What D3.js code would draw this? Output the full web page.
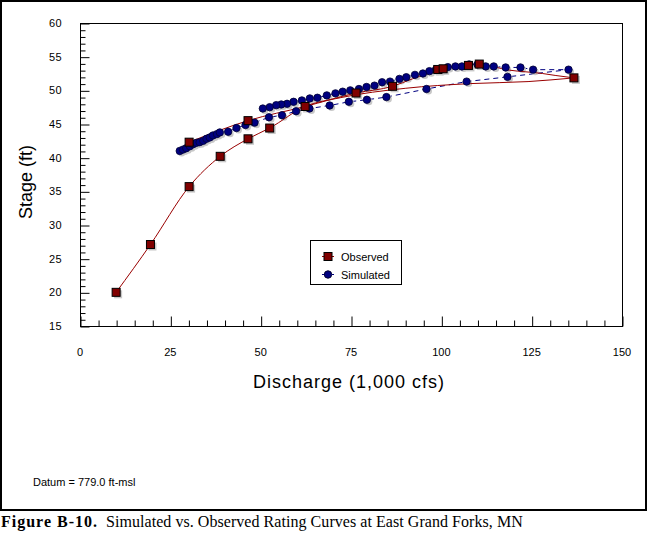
<!DOCTYPE html>
<html>
<head>
<meta charset="utf-8">
<script src="https://cdn.jsdelivr.net/npm/d3@7"></script>
<style>
    body { margin: 0; background: white; }
    svg { display: block; }
</style>
</head>
<body>
<div id="chartdiv"></div>
<script>
/*global d3 */

////////////////////////////////////////
// data (discharge in 1,000 cfs, stage in ft)
////////////////////////////////////////

// observed points, drawn as squares
var obsQ =     [10, 19.5, 30.2, 38.8, 46.5, 52.5, 62.3, 136.7,
                30.2, 46.5, 76.4, 86.5, 99, 100.5, 107.5, 110.5];
var obsStage = [20, 27.1, 35.7, 40.2, 42.8, 44.4, 47.6, 51.85,
                42.3, 45.5, 49.6, 50.6, 53.1, 53.2, 53.7, 53.9];

// observed rating curve, rising limb (lower)
var obsRiseQ =     [10, 19.5, 30.2, 38.8, 46.5, 52.5, 62.3, 72, 90,
                    108, 124, 136.7];
var obsRiseStage = [20, 27.1, 35.7, 40.2, 42.8, 44.4, 47.6, 48.9, 50.3,
                    51.0, 51.3, 51.85];

// observed rating curve, falling limb (upper), listed low to high Q
var obsFallQ =     [30.2, 46.5, 62.3, 76.4, 86.5, 92, 100, 104, 110,
                    118.8, 128, 131.7, 136.7];
var obsFallStage = [42.3, 45.5, 47.6, 49.6, 50.6, 51.7, 53.1, 53.6, 53.9,
                    53.0, 52.5, 52.2, 51.85];

// simulated loop, in time order (rising then falling)
var simQ = [27.6, 28.5, 29.4, 30.4, 31.3, 32.2, 33.1, 34.1, 35.0, 35.9,
            36.8, 37.9, 38.7, 41.0, 43.3, 45.8, 48.3, 52.3, 55.9, 59.8,
            63.5, 69.1, 74.4, 79.4, 84.8, 95.9, 107, 118.3, 135.2,
            125.4, 121.9, 117.8, 114.5, 112.3, 110, 107.7, 105.7, 103.9,
            101.8, 99.8, 98.5, 96.7, 94.9, 92.7, 90.3, 88.4, 85.8, 83.6,
            81.5, 79.3, 77.2, 74.8, 72.7, 70.7, 68.3, 65.7, 63.6, 61.4,
            59.1, 57.3, 55.7, 54.3, 52.5, 50.6];
var simStage = [41.0, 41.2, 41.4, 41.7, 42.0, 42.2, 42.3, 42.5, 42.8, 43.0,
                43.3, 43.5, 43.75, 43.85, 44.4, 44.85, 45.2, 46.0, 46.3, 46.9,
                47.3, 47.75, 48.3, 48.6, 49.0, 50.2, 51.3, 52.0, 53.07,
                53.07, 53.4, 53.4, 53.55, 53.55, 53.85, 53.85, 53.55, 53.55,
                53.45, 53.07, 53.07, 52.85, 52.5, 52.3, 51.95, 51.7, 51.3, 51.2,
                50.7, 50.5, 50.2, 50.0, 49.8, 49.55, 49.25, 48.9, 48.8, 48.5,
                48.3, 48.0, 47.9, 47.8, 47.5, 47.3];

var xTicks = [0, 25, 50, 75, 100, 125, 150];
var yTicks = [15, 20, 25, 30, 35, 40, 45, 50, 55, 60];
var legendNames = ["Observed", "Simulated"];

////////////////////////////////////////
// layout
////////////////////////////////////////

var W = 650, H = 535,
    plot = {left: 80, top: 23, right: 622, bottom: 326},
    obsColor = "#800000", simColor = "#000080", shadow = "#c8c8c8",
    axisFont = "Arial, 'Liberation Sans', sans-serif";

var svg = d3.select("#chartdiv").append("svg")
    .attr("width", W).attr("height", H);

var x = d3.scaleLinear().domain([0, 150]).range([plot.left, plot.right]);
var y = d3.scaleLinear().domain([15, 60]).range([plot.bottom, plot.top]);

function zip (xs, ys) {
    return xs.map(function (v, i) { return [v, ys[i]]; });
}

// outer frame
svg.append("rect")
    .attr("x", 1).attr("y", 1).attr("width", 645).attr("height", 509)
    .style("fill", "none").style("stroke", "black").style("stroke-width", 2);

// plot box
svg.append("rect")
    .attr("x", plot.left + 0.5).attr("y", plot.top + 0.5)
    .attr("width", plot.right - plot.left).attr("height", plot.bottom - plot.top)
    .style("fill", "none").style("stroke", "black");

// axes: ticks point inward, minor ticks between the labelled ones
var xAxis = d3.axisBottom(x).tickValues(d3.range(0, 151, 5))
    .tickSizeInner(0).tickSizeOuter(0).tickFormat("");
var gx = svg.append("g")
    .attr("transform", "translate(0.5," + (plot.bottom + 0.5) + ")")
    .call(xAxis);
gx.select(".domain").remove();
gx.selectAll(".tick line")
    .attr("y2", function (d) { return xTicks.indexOf(d) >= 0 ? -10 : -6; })
    .style("stroke", "black");

svg.append("g").selectAll("text").data(xTicks).join("text")
    .attr("x", function (d) { return x(d); })
    .attr("y", 356)
    .attr("text-anchor", "middle")
    .style("font-family", axisFont).style("font-size", "11px")
    .text(function (d) { return d; });

var yAxis = d3.axisLeft(y).tickValues(d3.range(15, 61, 1))
    .tickSizeInner(0).tickSizeOuter(0).tickFormat("");
var gy = svg.append("g")
    .attr("transform", "translate(" + (plot.left + 0.5) + ",0.5)")
    .call(yAxis);
gy.select(".domain").remove();
gy.selectAll(".tick line")
    .attr("x2", function (d) { return yTicks.indexOf(d) >= 0 ? 9 : 5; })
    .style("stroke", "black");

svg.append("g").selectAll("text").data(yTicks).join("text")
    .attr("x", 62)
    .attr("y", function (d) { return y(d) + 4; })
    .attr("text-anchor", "end")
    .style("font-family", axisFont).style("font-size", "11px")
    .style("letter-spacing", "0.4px")
    .text(function (d) { return d; });

// axis titles
svg.append("text")
    .attr("transform", "translate(32,182) rotate(-90)")
    .attr("text-anchor", "middle")
    .style("font-family", axisFont).style("font-size", "18px")
    .text("Stage (ft)");

svg.append("text")
    .attr("x", 349).attr("y", 388)
    .attr("text-anchor", "middle")
    .style("font-family", axisFont).style("font-size", "18px")
    .style("letter-spacing", "1px")
    .text("Discharge (1,000 cfs)");

////////////////////////////////////////
// series
////////////////////////////////////////

var curveLine = d3.line()
    .x(function (d) { return x(d[0]); })
    .y(function (d) { return y(d[1]); })
    .curve(d3.curveMonotoneX);

var simLine = d3.line()
    .x(function (d) { return x(d[0]); })
    .y(function (d) { return y(d[1]); });

var sims = zip(simQ, simStage),
    obs = zip(obsQ, obsStage);

// simulated dashed line under everything
svg.append("path")
    .attr("d", simLine(sims))
    .style("fill", "none").style("stroke", simColor)
    .style("stroke-width", 1).style("stroke-dasharray", "5,4");

// marker shadows
svg.append("g").selectAll("circle").data(sims).join("circle")
    .attr("cx", function (d) { return x(d[0]) + 2; })
    .attr("cy", function (d) { return y(d[1]) + 2; })
    .attr("r", 3.5)
    .style("fill", shadow);
svg.append("g").selectAll("rect").data(obs).join("rect")
    .attr("x", function (d) { return x(d[0]) - 2; })
    .attr("y", function (d) { return y(d[1]) - 2; })
    .attr("width", 8).attr("height", 8)
    .style("fill", shadow);

// observed red curves
[zip(obsRiseQ, obsRiseStage), zip(obsFallQ, obsFallStage)].forEach(function (pts) {
    svg.append("path")
        .attr("d", curveLine(pts))
        .style("fill", "none").style("stroke", "#990000")
        .style("stroke-width", 1); });

// simulated circles
svg.append("g").selectAll("circle").data(sims).join("circle")
    .attr("cx", function (d) { return x(d[0]); })
    .attr("cy", function (d) { return y(d[1]); })
    .attr("r", 3.7)
    .style("fill", simColor).style("stroke", "#000033").style("stroke-width", 0.8);

// observed squares
svg.append("g").selectAll("rect").data(obs).join("rect")
    .attr("x", function (d) { return x(d[0]) - 4; })
    .attr("y", function (d) { return y(d[1]) - 4; })
    .attr("width", 8).attr("height", 8)
    .style("fill", obsColor).style("stroke", "black").style("stroke-width", 1);

////////////////////////////////////////
// legend
////////////////////////////////////////

var lg = svg.append("g");
lg.append("rect")
    .attr("x", 310.5).attr("y", 240.5).attr("width", 91).attr("height", 44)
    .style("fill", "white").style("stroke", "black");

legendNames.forEach(function (name, i) {
    var ly = 256.5 + i * 18;
    lg.append("line")
        .attr("x1", 322).attr("x2", 334).attr("y1", ly).attr("y2", ly)
        .style("stroke", i === 0 ? "#990000" : simColor)
        .style("stroke-dasharray", i === 0 ? null : "3,2");
    if(i === 0) {
        lg.append("rect")
            .attr("x", 324).attr("y", ly - 4).attr("width", 8).attr("height", 8)
            .style("fill", obsColor).style("stroke", "black"); }
    else {
        lg.append("circle")
            .attr("cx", 328).attr("cy", ly).attr("r", 3.7)
            .style("fill", simColor).style("stroke", "#000033"); }
    lg.append("text")
        .attr("x", 341).attr("y", ly + 4)
        .style("font-family", axisFont).style("font-size", "11px")
        .text(name);
});

// datum note
svg.append("text")
    .attr("x", 33).attr("y", 486)
    .style("font-family", axisFont).style("font-size", "11px")
    .text("Datum = 779.0 ft-msl");

// figure caption
var cap = svg.append("text")
    .attr("x", 1).attr("y", 527)
    .style("font-family", "'Liberation Serif', 'Times New Roman', serif")
    .style("font-size", "16px");
cap.append("tspan").style("font-weight", "bold").style("letter-spacing", "1px")
    .text("Figure B-10.");
cap.append("tspan").attr("dx", 8).style("letter-spacing", "0.05px")
    .text("Simulated vs. Observed Rating Curves at East Grand Forks, MN");
</script>
</body>
</html>
